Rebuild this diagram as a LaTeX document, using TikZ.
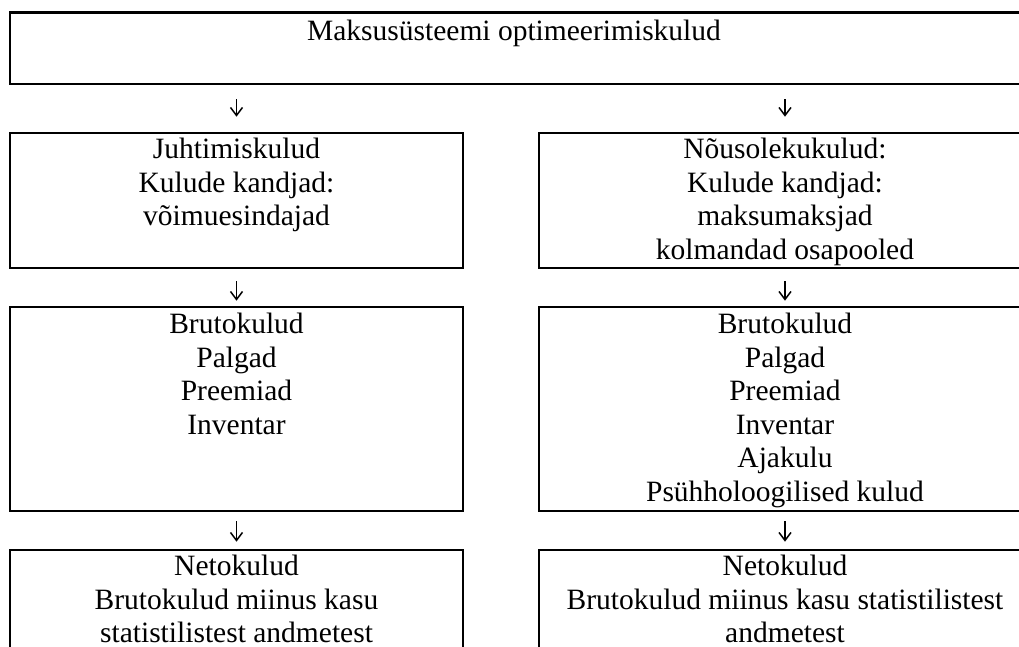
\documentclass[tikz,border=0pt]{standalone}
\usepackage{fontspec}
\setmainfont{Liberation Serif}
\usetikzlibrary{arrows.meta,calc}
\tikzset{
  box/.style={draw, line width=2.6pt, inner sep=0pt, rectangle},
  txt/.style={align=center, inner sep=0pt, anchor=north, font=\fontsize{29.5}{33.5}\selectfont},
  arr/.style={line width=1.5pt, -{Straight Barb[length=8pt,width=12pt,line width=1.5pt]}},
}
\begin{document}
\begin{tikzpicture}[x=1pt,y=-1pt]
\useasboundingbox[fill=white] (0,0) rectangle (1019,646);
\clip (0,0) rectangle (1019,646);
% boxes
\node[box, minimum width=1021pt, minimum height=71.5pt] (top) at (520.5,48.25) {};
\node[box, minimum width=453pt, minimum height=135pt] (l2) at (236.5,200.5) {};
\node[box, minimum width=492pt, minimum height=135pt] (r2) at (785,200.5) {};
\node[box, minimum width=453pt, minimum height=204pt] (l3) at (236.5,409) {};
\node[box, minimum width=492pt, minimum height=204pt] (r3) at (785,409) {};
\node[box, minimum width=453pt, minimum height=200pt] (l4) at (236.5,650) {};
\node[box, minimum width=492pt, minimum height=200pt] (r4) at (785,650) {};
% texts
\node[txt] (ttop) at (514,17) {\strut Maksusüsteemi optimeerimiskulud};
\node[txt] (tl2) at ($(l2.north)+(0,3.5)$) {\strut Juhtimiskulud\\\strut Kulude kandjad:\\\strut võimuesindajad};
\node[txt] (tr2) at ($(r2.north)+(0,3.5)$) {\strut Nõusolekukulud:\\\strut Kulude kandjad:\\\strut maksumaksjad\\\strut kolmandad osapooled};
\node[txt] (tl3) at ($(l3.north)+(0,4.5)$) {\strut Brutokulud\\\strut Palgad\\\strut Preemiad\\\strut Inventar};
\node[txt] (tr3) at ($(r3.north)+(0,4.5)$) {\strut Brutokulud\\\strut Palgad\\\strut Preemiad\\\strut Inventar\\\strut Ajakulu\\\strut Psühholoogilised kulud};
\node[txt] (tl4) at ($(l4.north)+(0,3.5)$) {\strut Netokulud\\\strut Brutokulud miinus kasu\\statistilistest andmetest};
\node[txt] (tr4) at ($(r4.north)+(0,3.5)$) {\strut Netokulud\\\strut Brutokulud miinus kasu statistilistest\\andmetest};
% arrows
\draw[arr, shorten <=14pt, shorten >=15pt] (top.south -| l2.north) -- (l2.north);
\draw[arr, shorten <=14pt, shorten >=15pt] (top.south -| r2.north) -- (r2.north);
\draw[arr, shorten <=12pt, shorten >=5pt] (l2.south) -- (l3.north);
\draw[arr, shorten <=12pt, shorten >=5pt] (r2.south) -- (r3.north);
\draw[arr, shorten <=9pt, shorten >=7pt] (l3.south) -- (l4.north);
\draw[arr, shorten <=9pt, shorten >=7pt] (r3.south) -- (r4.north);
\end{tikzpicture}
\end{document}
